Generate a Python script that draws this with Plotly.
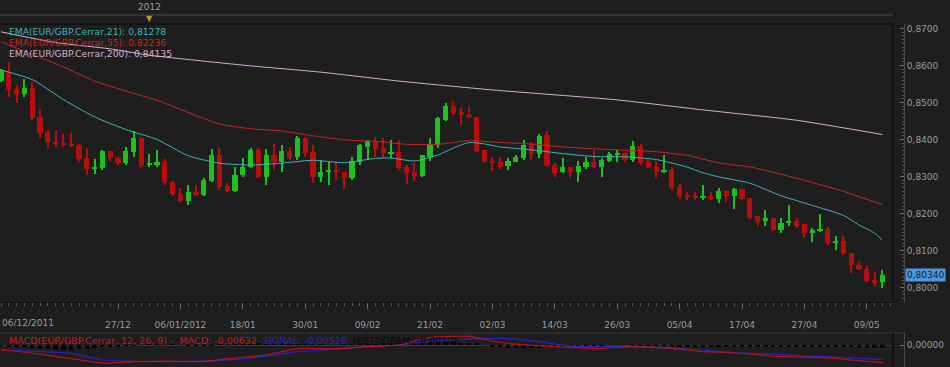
import plotly.graph_objects as go

W, H = 950, 367

# ---------------- data (EUR/GBP daily, 06/12/2011 - 11/05/2012) ----------------
opens = [0.8559,0.8583,0.8537,0.8523,0.8539,0.8462,0.8419,0.8394,0.8391,0.8389,
         0.8385,0.8351,0.8319,0.8323,0.8369,0.8351,0.8336,0.8367,0.8405,0.8331,
         0.8333,0.8338,0.8286,0.8253,0.8235,0.8259,0.8250,0.8289,0.8357,0.8275,
         0.8261,0.8304,0.8327,0.8372,0.8300,0.8358,0.8340,0.8370,0.8352,0.8403,
         0.8365,0.8300,0.8311,0.8318,0.8313,0.8297,0.8339,0.8381,0.8397,0.8378,
         0.8363,0.8366,0.8327,0.8312,0.8302,0.8352,0.8385,0.8453,0.8491,0.8473,
         0.8466,0.8462,0.8372,0.8343,0.8338,0.8329,0.8340,0.8351,0.8387,0.8361,
         0.8412,0.8331,0.8311,0.8325,0.8311,0.8327,0.8338,0.8325,0.8343,0.8358,
         0.8364,0.8345,0.8383,0.8338,0.8327,0.8312,0.8318,0.8271,0.8250,0.8248,
         0.8243,0.8248,0.8240,0.8260,0.8248,0.8266,0.8243,0.8192,0.8180,0.8189,
         0.8156,0.8173,0.8180,0.8171,0.8147,0.8154,0.8158,0.8122,0.8127,0.8093,
         0.8061,0.8051,0.8019,0.8014]
highs = [0.8590,0.8610,0.8547,0.8564,0.8556,0.8483,0.8426,0.8426,0.8414,0.8417,
         0.8389,0.8377,0.8347,0.8372,0.8370,0.8352,0.8381,0.8423,0.8408,0.8361,
         0.8372,0.8347,0.8288,0.8269,0.8277,0.8277,0.8296,0.8375,0.8377,0.8282,
         0.8325,0.8351,0.8377,0.8378,0.8374,0.8389,0.8385,0.8381,0.8410,0.8408,
         0.8385,0.8345,0.8340,0.8343,0.8313,0.8354,0.8387,0.8400,0.8406,0.8403,
         0.8400,0.8400,0.8331,0.8336,0.8358,0.8403,0.8460,0.8498,0.8504,0.8486,
         0.8489,0.8462,0.8372,0.8354,0.8354,0.8351,0.8358,0.8399,0.8394,0.8416,
         0.8423,0.8336,0.8351,0.8325,0.8343,0.8352,0.8372,0.8350,0.8365,0.8372,
         0.8367,0.8396,0.8389,0.8347,0.8343,0.8358,0.8327,0.8280,0.8259,0.8257,
         0.8277,0.8257,0.8269,0.8264,0.8269,0.8266,0.8243,0.8192,0.8209,0.8189,
         0.8187,0.8223,0.8188,0.8171,0.8161,0.8198,0.8163,0.8139,0.8138,0.8093,
         0.8071,0.8057,0.8043,0.8048]
lows = [0.8555,0.8514,0.8499,0.8516,0.8453,0.8404,0.8377,0.8381,0.8381,0.8381,
        0.8340,0.8304,0.8306,0.8318,0.8342,0.8332,0.8332,0.8354,0.8324,0.8327,
        0.8327,0.8277,0.8246,0.8232,0.8223,0.8246,0.8246,0.8286,0.8264,0.8257,
        0.8257,0.8299,0.8324,0.8296,0.8277,0.8318,0.8313,0.8345,0.8345,0.8354,
        0.8282,0.8284,0.8277,0.8291,0.8266,0.8291,0.8330,0.8345,0.8354,0.8350,
        0.8350,0.8318,0.8279,0.8288,0.8300,0.8342,0.8378,0.8450,0.8465,0.8439,
        0.8458,0.8367,0.8338,0.8315,0.8321,0.8318,0.8338,0.8345,0.8345,0.8351,
        0.8327,0.8298,0.8309,0.8296,0.8285,0.8320,0.8322,0.8300,0.8338,0.8338,
        0.8340,0.8340,0.8332,0.8322,0.8296,0.8309,0.8264,0.8239,0.8237,0.8237,
        0.8237,0.8237,0.8228,0.8232,0.8212,0.8237,0.8185,0.8165,0.8167,0.8153,
        0.8147,0.8167,0.8161,0.8135,0.8124,0.8151,0.8115,0.8101,0.8088,0.8039,
        0.8048,0.8014,0.8005,0.8000]
closes = [0.8588,0.8534,0.8523,0.8539,0.8458,0.8417,0.8393,0.8388,0.8385,0.8383,
          0.8348,0.8320,0.8326,0.8370,0.8351,0.8336,0.8369,0.8405,0.8329,0.8337,
          0.8338,0.8286,0.8252,0.8235,0.8257,0.8250,0.8291,0.8357,0.8271,0.8261,
          0.8304,0.8327,0.8372,0.8300,0.8357,0.8340,0.8370,0.8351,0.8404,0.8363,
          0.8300,0.8312,0.8318,0.8311,0.8297,0.8342,0.8384,0.8397,0.8375,0.8363,
          0.8367,0.8324,0.8310,0.8302,0.8357,0.8387,0.8458,0.8491,0.8471,0.8465,
          0.8461,0.8370,0.8340,0.8336,0.8327,0.8343,0.8354,0.8384,0.8361,0.8409,
          0.8329,0.8309,0.8325,0.8311,0.8329,0.8338,0.8325,0.8345,0.8361,0.8364,
          0.8345,0.8383,0.8336,0.8325,0.8311,0.8318,0.8269,0.8248,0.8244,0.8242,
          0.8248,0.8239,0.8260,0.8248,0.8266,0.8239,0.8189,0.8178,0.8189,0.8156,
          0.8173,0.8180,0.8167,0.8147,0.8156,0.8158,0.8120,0.8127,0.8093,0.8061,
          0.8050,0.8018,0.8014,0.8034]

# EMA readings (candle index, value)
ema21_idx = [0,4,8,12,16,20,24,28,32,36,40,44,48,50,53,56,58,60,62,64,68,72,76,80,84,88,90,92,96,100,104,108,110,112,113]
ema21_val = [0.8588,0.8562,0.8508,0.8461,0.8427,0.8400,0.8356,0.8336,0.8331,0.8336,0.8344,0.8337,0.8349,0.8350,0.8342,0.8358,0.8377,0.8392,0.8388,0.8380,0.8372,0.8362,0.8354,0.8353,0.8346,0.8325,0.8310,0.8299,0.8282,0.8248,0.8222,0.8195,0.8169,0.8147,0.81278]
ema55_idx = [0,4,8,12,16,20,24,28,32,36,40,44,48,52,56,60,64,68,72,76,80,84,88,92,96,100,104,108,113]
ema55_val = [0.8664,0.8630,0.8596,0.8558,0.8531,0.8506,0.8473,0.8442,0.8429,0.8423,0.8410,0.8399,0.8395,0.8387,0.8387,0.8397,0.8392,0.8388,0.8380,0.8375,0.8371,0.8367,0.8357,0.8337,0.8326,0.8306,0.8284,0.8260,0.82236]
ema200_idx = [0,7,14,19,25,32,41,51,63,79,90,102,113]
ema200_val = [0.8691,0.8662,0.8645,0.8628,0.8614,0.8599,0.8582,0.8558,0.8534,0.8507,0.8480,0.8452,0.84135]

# MACD(12,26,9) readings (candle index, value)
macd_idx = [0,4,9,13,17,21,26,30,34,38,43,47,51,55,60,64,71,77,81,86,90,94,99,103,107,109,113]
macd_val = [-0.0018,-0.0029,-0.0049,-0.0065,-0.0060,-0.0058,-0.0059,-0.0047,-0.0036,-0.0013,-0.0014,-0.0006,0.0000,0.0027,0.0031,0.0009,-0.0006,-0.0012,-0.0006,-0.0012,-0.0024,-0.0028,-0.0040,-0.0044,-0.0048,-0.0054,-0.00632]
signal_idx = [0,9,13,21,26,30,34,38,43,47,51,55,61,64,69,73,77,81,86,90,94,99,103,107,113]
signal_val = [-0.0018,-0.0030,-0.0054,-0.0060,-0.0058,-0.0052,-0.0040,-0.0024,-0.0015,-0.0006,0.0000,0.0014,0.0022,0.0024,0.0012,-0.0004,-0.0006,-0.0006,-0.0012,-0.0018,-0.0028,-0.0032,-0.0040,-0.0044,-0.00526]
hist_val = [-0.0003,-0.0004,-0.0006,-0.0008,-0.0012,-0.0014,-0.0016,-0.0017,-0.0018,-0.0018,
            -0.0016,-0.0013,-0.0010,-0.0008,-0.0006,-0.0004,-0.0002,-0.0001,0.0000,0.0001,
            0.0002,0.0002,0.0001,0.0000,-0.0001,-0.0002,-0.0002,-0.0001,0.0001,0.0003,
            0.0004,0.0005,0.0006,0.0006,0.0005,0.0004,0.0004,0.0003,0.0003,0.0002,
            0.0001,0.0001,0.0000,0.0000,0.0001,0.0001,0.0002,0.0002,0.0003,0.0004,
            0.0005,0.0006,0.0008,0.0010,0.0011,0.0012,0.0012,0.0011,0.0010,0.0009,
            0.0008,0.0004,0.0000,-0.0004,-0.0008,-0.0010,-0.0011,-0.0012,-0.0011,-0.0010,
            -0.0008,-0.0006,-0.0004,-0.0003,-0.0002,-0.0002,-0.0001,-0.0001,0.0000,0.0000,
            0.0000,-0.0001,-0.0001,-0.0001,-0.0002,-0.0002,-0.0003,-0.0004,-0.0004,-0.0005,
            -0.0005,-0.0005,-0.0004,-0.0004,-0.0004,-0.0005,-0.0006,-0.0006,-0.0007,-0.0007,
            -0.0007,-0.0006,-0.0006,-0.0006,-0.0005,-0.0005,-0.0005,-0.0006,-0.0007,-0.0008,
            -0.0009,-0.0010,-0.0010,-0.0011]

# date axis
tick_idx = [15, 23, 31, 39, 47, 55, 63, 71, 79, 87, 95, 103, 111]
tick_text = ["27/12", "06/01/2012", "18/01", "30/01", "09/02", "21/02", "02/03",
             "14/03", "26/03", "05/04", "17/04", "27/04", "09/05"]
first_label = "06/12/2011"
year_idx = 19
year_label = "2012"
price_ticks = [0.80, 0.81, 0.82, 0.83, 0.84, 0.85, 0.86, 0.87]
last_price = 0.80340

legend_texts = ["EMA(EUR/GBP.Cerrar,21): 0,81278",
                "EMA(EUR/GBP.Cerrar,55): 0,82236",
                "EMA(EUR/GBP.Cerrar,200): 0,84135"]

# ---------------- styling ----------------
BG = "#1e1e1e"
GREEN = "#1fbf1f"
RED = "#b80d0d"
C21 = "#3ab4bd"
C55 = "#c32626"
C200 = "#d9aed6"
AXT = "#9c9c9c"
FONT = "DejaVu Sans"

def px_x(p):
    return p / W

def px_y(p):
    return 1 - p / H

n = len(closes)
idx = list(range(n))

fig = go.Figure()

inc = [i for i in idx if closes[i] >= opens[i]]
dec = [i for i in idx if closes[i] < opens[i]]
MINB = 0.00028

for group, col in ((inc, GREEN), (dec, RED)):
    fig.add_trace(go.Bar(
        x=group, y=[highs[i] - lows[i] for i in group], base=[lows[i] for i in group],
        width=0.14, marker=dict(color=col, line=dict(width=0)),
        xaxis="x", yaxis="y", hoverinfo="skip", showlegend=False))
    fig.add_trace(go.Bar(
        x=group, y=[max(abs(closes[i] - opens[i]), MINB) for i in group],
        base=[min(opens[i], closes[i]) for i in group],
        width=0.66, marker=dict(color=col, line=dict(width=0)),
        xaxis="x", yaxis="y", hoverinfo="skip", showlegend=False))

for xi, yv, col in ((ema200_idx, ema200_val, C200), (ema55_idx, ema55_val, C55),
                    (ema21_idx, ema21_val, C21)):
    fig.add_trace(go.Scatter(x=xi, y=yv, mode="lines",
                             line=dict(color=col, width=1, shape="spline", smoothing=0.6),
                             xaxis="x", yaxis="y", hoverinfo="skip", showlegend=False))

# MACD panel
fig.add_trace(go.Bar(x=idx, y=hist_val, width=0.55, marker=dict(color="#050505", line=dict(width=0)),
                     xaxis="x2", yaxis="y2", hoverinfo="skip", showlegend=False))
fig.add_trace(go.Scatter(x=signal_idx, y=signal_val, mode="lines",
                         line=dict(color="#2a22c8", width=1.2, shape="spline", smoothing=0.5),
                         xaxis="x2", yaxis="y2", hoverinfo="skip", showlegend=False))
fig.add_trace(go.Scatter(x=macd_idx, y=macd_val, mode="lines", opacity=0.8,
                         line=dict(color="#e01010", width=1.2, shape="spline", smoothing=0.5),
                         xaxis="x2", yaxis="y2", hoverinfo="skip", showlegend=False))

# geometry
PLOT_R = 893
AX_X = 904
MAIN_TOP, MAIN_BOT = 24, 302
M_TOP, M_BOT = 333, 367
xr = [(0 - 1) / 7.8, (PLOT_R - 1) / 7.8]
yr = [0.87 - (MAIN_BOT - 28.5) / 3700, 0.87 - (MAIN_TOP - 28.5) / 3700]
mr = [-(M_BOT - 345) / 2775, (345 - M_TOP) / 2775]

fig.update_layout(
    width=W, height=H, margin=dict(l=0, r=0, t=0, b=0),
    paper_bgcolor=BG, plot_bgcolor=BG, barmode="overlay", bargap=0,
    separators=", ", showlegend=False,
    font=dict(family=FONT, size=9, color=AXT),
    xaxis=dict(domain=[0, px_x(PLOT_R)], range=xr, showgrid=False, zeroline=False,
               tickmode="array", tickvals=tick_idx, ticktext=tick_text,
               ticks="outside", ticklen=6, tickcolor="#6a6a6a", tickwidth=1,
               minor=dict(dtick=1, tick0=0, ticks="outside", ticklen=3, tickcolor="#5a5a5a"),
               tickfont=dict(size=9, color=AXT), ticklabelstandoff=8,
               showline=True, linecolor="#101010", anchor="y", fixedrange=True),
    yaxis=dict(domain=[px_y(MAIN_BOT), px_y(MAIN_TOP)], range=yr, showgrid=False, zeroline=False,
               side="right", anchor="free", position=px_x(AX_X),
               tickmode="array", tickvals=price_ticks, tickformat=".4f",
               ticks="inside", ticklen=4, tickcolor="#6a6a6a",
               minor=dict(dtick=0.001, tick0=0.80, ticks="inside", ticklen=2, tickcolor="#5a5a5a"),
               showline=True, linecolor="#4a4a4a", tickfont=dict(size=9, color=AXT),
               fixedrange=True),
    xaxis2=dict(domain=[0, px_x(PLOT_R)], range=xr, showgrid=False, zeroline=False,
                showticklabels=False, anchor="y2", matches="x", showline=False),
    yaxis2=dict(domain=[0, px_y(M_TOP)], range=mr, showgrid=False,
                zeroline=True, zerolinecolor="#3a3a3a", zerolinewidth=1,
                side="right", anchor="free", position=px_x(AX_X),
                tickmode="array", tickvals=[0.0], tickformat=".5f",
                ticks="inside", ticklen=4, tickcolor="#6a6a6a",
                showline=True, linecolor="#4a4a4a", tickfont=dict(size=9, color=AXT)),
)

shapes = []
shapes.append(dict(type="line", xref="paper", yref="paper", x0=px_x(PLOT_R), x1=px_x(PLOT_R),
                   y0=px_y(MAIN_BOT), y1=px_y(MAIN_TOP), line=dict(color="#050505", width=1)))
shapes.append(dict(type="line", xref="paper", yref="paper", x0=0, x1=px_x(PLOT_R),
                   y0=px_y(MAIN_TOP), y1=px_y(MAIN_TOP), line=dict(color="#050505", width=1)))
shapes.append(dict(type="line", xref="paper", yref="paper", x0=0, x1=px_x(PLOT_R),
                   y0=px_y(15), y1=px_y(15), line=dict(color="#4a4a4a", width=1)))
shapes.append(dict(type="line", xref="paper", yref="paper", x0=0, x1=px_x(AX_X),
                   y0=px_y(M_TOP), y1=px_y(M_TOP), line=dict(color="#3a3a3a", width=1)))
shapes.append(dict(type="line", xref="paper", yref="paper", x0=px_x(PLOT_R), x1=px_x(PLOT_R),
                   y0=0, y1=px_y(M_TOP), line=dict(color="#050505", width=1)))
fig.update_layout(shapes=shapes)

ann = []
for k, (t, c) in enumerate(zip(legend_texts, [C21, "#d42020", C200])):
    ann.append(dict(xref="paper", yref="paper", x=px_x(7), y=px_y(31 + 11.5 * k),
                    xanchor="left", yanchor="middle", text=t, showarrow=False,
                    font=dict(size=9.2, color=c, family=FONT)))
ann.append(dict(xref="paper", yref="paper", x=0, y=px_y(323), xanchor="left", yanchor="middle",
                text=first_label, showarrow=False, font=dict(size=9, color=AXT)))
ann.append(dict(xref="x", yref="paper", x=year_idx, y=px_y(7), xanchor="center", yanchor="middle",
                text=year_label, showarrow=False, font=dict(size=9, color=AXT)))
ann.append(dict(xref="x", yref="paper", x=year_idx, y=px_y(19), xanchor="center", yanchor="middle",
                text="▼", showarrow=False, font=dict(size=8, color="#c8961e")))
ann.append(dict(xref="paper", yref="y", x=px_x(AX_X + 1), y=last_price, xanchor="left",
                yanchor="middle", text="0,80340", showarrow=False, bgcolor="#4a98e0",
                borderpad=1, font=dict(size=9, color="#102030")))
ann.append(dict(xref="paper", yref="paper", x=px_x(7), y=px_y(340), xanchor="left", yanchor="middle",
                showarrow=False, font=dict(size=9.5, family=FONT),
                text=("<span style='color:#d41414'>MACD(EUR/GBP.Cerrar, 12, 26, 9) -  MACD: -0,00632</span>"
                      "  <span style='color:#2a22c8'>SIGNAL: -0,00526</span>"
                      "  <span style='color:#0a0a0a'>HISTOGRAM: -0,00106</span>")))
fig.update_layout(annotations=ann)

fig.write_html("out.html")
